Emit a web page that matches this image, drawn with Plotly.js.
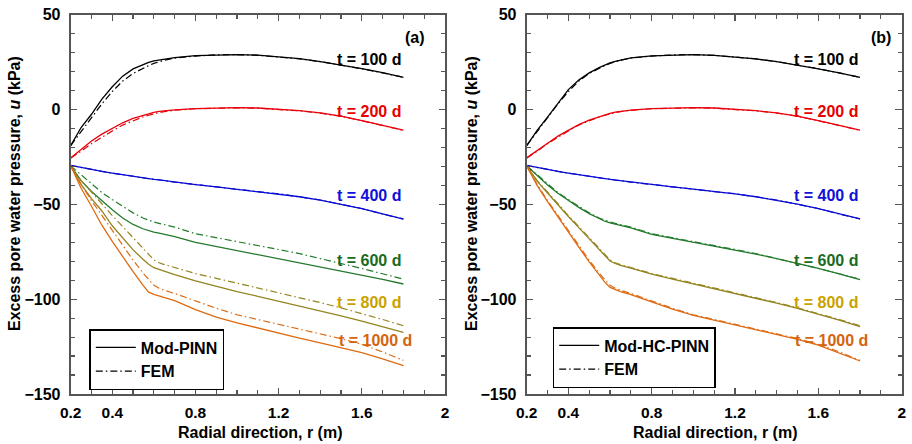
<!DOCTYPE html>
<html>
<head>
<meta charset="utf-8">
<script src="https://cdn.plot.ly/plotly-3.0.1.min.js"></script>
<style>html,body{margin:0;padding:0;background:#fff;}#chart{width:912px;height:444px;}</style>
</head>
<body>
<div id="chart"></div>
<script>
// Radial positions (m)
const r = [0.2, 0.25, 0.3, 0.35, 0.4, 0.45, 0.5, 0.55, 0.575, 0.6, 0.625, 0.65, 0.7, 0.8, 0.9, 1.0, 1.1, 1.2, 1.3, 1.4, 1.5, 1.6, 1.7, 1.8];

// Times and labels
const times = ["t = 100 d", "t = 200 d", "t = 400 d", "t = 600 d", "t = 800 d", "t = 1000 d"];

// Panel (a): Mod-PINN
const pinnA_100  = [-19, -9.5, -2.5, 5.5, 12, 17.6, 21.4, 23.9, 24.9, 25.7, 26.2, 26.6, 27.4, 28.4, 28.9, 29, 28.7, 27.9, 26.8, 25.3, 23.6, 21.6, 19.4, 17];
const pinnA_200  = [-25.5, -21, -16.6, -13, -10, -7, -4.7, -3, -2.2, -1.5, -1, -0.7, -0.2, 0.5, 0.9, 1, 0.8, 0.3, -0.6, -1.8, -3.5, -5.8, -8.3, -10.9];
const pinnA_400  = [-29.5, -30.6, -31.6, -32.6, -33.5, -34.4, -35.2, -36, -36.4, -36.8, -37.1, -37.5, -38.2, -39.6, -40.8, -42, -43.2, -44.5, -46, -47.8, -49.9, -52.3, -55, -57.8];
const pinnA_600  = [-29.7, -37.5, -43.2, -48.2, -52.8, -57.2, -60.6, -63, -63.9, -64.6, -65.2, -65.8, -67, -70, -72.2, -74.3, -76.3, -78.4, -80.6, -82.8, -85, -87.3, -89.6, -92];
const pinnA_800  = [-29.7, -39.5, -47, -53.5, -61.3, -67.8, -74, -79.2, -81.6, -83.4, -84.4, -85.3, -87, -90.3, -93.3, -96, -98.5, -101, -103.4, -106, -108.8, -111.6, -114.5, -117.5];
const pinnA_1000 = [-29.7, -41.5, -51, -61, -69.5, -77.8, -85.5, -93, -96.3, -97.5, -98.4, -99.2, -100.8, -105.5, -109.5, -112.5, -115.3, -118, -120.5, -123, -125.5, -128.2, -131.5, -135];

// FEM (same in both panels)
const fem_100  = [-19, -11.5, -4.5, 3, 9.5, 15, 19, 22, 23.2, 24.3, 25.2, 26, 27.1, 28.2, 28.8, 29, 28.6, 27.8, 26.7, 25.3, 23.5, 21.5, 19.3, 17];
const fem_200  = [-25.5, -22, -18, -14.5, -11.3, -8.2, -5.8, -3.8, -3, -2.2, -1.6, -1.1, -0.4, 0.4, 0.8, 0.9, 0.7, 0.2, -0.7, -1.9, -3.6, -5.9, -8.4, -11];
const fem_400  = [-29.5, -30.5, -31.7, -32.5, -33.6, -34.3, -35.3, -35.9, -36.5, -36.7, -37.2, -37.4, -38.3, -39.5, -40.9, -41.9, -43.3, -44.4, -46.1, -47.7, -50, -52.2, -55.1, -57.7];
const fem_600  = [-29.7, -34.5, -39.5, -43.8, -47.5, -51.2, -54.5, -57.3, -58.4, -59.3, -60, -60.6, -62, -65.5, -67.5, -69.5, -71.5, -73.8, -76, -78.5, -81, -83.8, -86.6, -89.5];
const fem_800  = [-29.7, -37.5, -43.5, -50, -55.9, -61.7, -67.5, -73.4, -76.4, -79.3, -80.8, -81.8, -83.3, -86.5, -89, -91.5, -94, -96.5, -99, -101.8, -104.6, -107.5, -110.7, -114];
const fem_1000 = [-29.7, -39.5, -48, -56, -63.8, -71.8, -79.4, -86.5, -89.9, -92.7, -94.2, -95.3, -97, -101, -104.8, -108.2, -110.7, -113.2, -115.7, -118, -120.8, -123.8, -127.8, -132.3];

// Panel (b): Mod-HC-PINN
const pinnB_100  = [-19, -11, -4, 3.5, 10.5, 15.5, 19.3, 22.2, 23.5, 24.6, 25.4, 26.1, 27.2, 28.3, 28.8, 29, 28.6, 27.8, 26.7, 25.2, 23.5, 21.4, 19.3, 16.9];
const pinnB_200  = [-25.5, -21.6, -17.6, -14, -11, -8, -5.6, -3.6, -2.8, -2, -1.4, -1, -0.3, 0.5, 0.9, 1, 0.8, 0.3, -0.6, -1.8, -3.5, -5.8, -8.3, -10.8];
const pinnB_400  = [-29.5, -30.6, -31.6, -32.6, -33.5, -34.4, -35.3, -36, -36.4, -36.8, -37.2, -37.5, -38.2, -39.6, -40.8, -42, -43.2, -44.5, -46, -47.8, -49.9, -52.2, -55, -57.6];
const pinnB_600  = [-29.7, -34.8, -39.8, -44.2, -48, -51.6, -54.9, -57.8, -58.9, -59.8, -60.4, -61, -62.4, -65.8, -67.8, -69.8, -71.8, -74, -76.2, -78.6, -81.1, -83.8, -86.6, -89.7];
const pinnB_800  = [-29.7, -37.8, -44, -50.5, -56.4, -62.3, -68.2, -74.1, -77.2, -79.9, -81.2, -82.2, -83.6, -86.8, -89.4, -91.9, -94.4, -96.9, -99.4, -102.1, -104.9, -107.8, -111, -114.5];
const pinnB_1000 = [-29.7, -40, -48.6, -56.8, -64.6, -72.6, -80.3, -87.5, -91, -93.8, -95, -96, -97.6, -101.5, -105.2, -108.5, -111, -113.5, -116, -118.4, -121.2, -124.2, -128.2, -132.6];

// Label positions (data coordinates)
const labelY = [26.6, -1.3, -45.1, -79.5, -102, -121.7];
const labelX = [1.80, 1.80, 1.80, 1.80, 1.80, 1.85];

// Tick labels
const xTicks = [0.2, 0.4, 0.8, 1.2, 1.6, 2];
const xTickText = ["0.2", "0.4", "0.8", "1.2", "1.6", "2"];
const yTicks = [-150, -100, -50, 0, 50];

const lineColors = ["#000000", "#e8000b", "#0a0ad2", "#237a2c", "#948420", "#de6a12"];
const textColors = ["#000000", "#e60000", "#1010d8", "#1a6b20", "#c9a200", "#d4640e"];

const pinnA = [pinnA_100, pinnA_200, pinnA_400, pinnA_600, pinnA_800, pinnA_1000];
const pinnB = [pinnB_100, pinnB_200, pinnB_400, pinnB_600, pinnB_800, pinnB_1000];
const fem = [fem_100, fem_200, fem_400, fem_600, fem_800, fem_1000];

const FONT = "Liberation Sans, Arial, Helvetica, sans-serif";
const FEMDASH = "7px,3px,1.5px,3px";

const traces = [];
function addPanel(pinn, pinnName, xa, ya, leg) {
  for (let i = 0; i < 6; i++) {
    traces.push({x: r, y: pinn[i], xaxis: xa, yaxis: ya, type: "scatter", mode: "lines",
      name: pinnName, legend: leg, showlegend: i === 0,
      line: {color: lineColors[i], width: 1.3}});
    traces.push({x: r, y: fem[i], xaxis: xa, yaxis: ya, type: "scatter", mode: "lines",
      name: "FEM", legend: leg, showlegend: i === 0,
      line: {color: lineColors[i], width: 1.2, dash: FEMDASH}});
  }
}
addPanel(pinnA, "Mod-PINN", "x", "y", "legend");
addPanel(pinnB, "Mod-HC-PINN", "x2", "y2", "legend2");

const W = 912, H = 444;
const yDom = [50 / H, (H - 14.7) / H];

function xAxis(dom, anchor) {
  return {
    domain: dom, anchor: anchor, range: [0.2, 2], autorange: false,
    tickmode: "array", tickvals: xTicks, ticktext: xTickText,
    ticks: "inside", ticklen: 6.5, tickwidth: 1.3, tickcolor: "#555",
    showline: true, linecolor: "#555", linewidth: 2, mirror: "ticks",
    showgrid: false, zeroline: false,
    tickfont: {family: FONT, size: 15.5, color: "#000", weight: "bold"},
    ticklabelstandoff: 3,
    minor: {tickmode: "linear", tick0: 0.2, dtick: 0.1, ticks: "inside", ticklen: 4, tickwidth: 1.2, tickcolor: "#555", showgrid: false}
  };
}
function yAxis(dom, anchor) {
  return {
    domain: dom, anchor: anchor, range: [-150, 50], autorange: false,
    tickmode: "array", tickvals: yTicks,
    ticks: "inside", ticklen: 6.5, tickwidth: 1.3, tickcolor: "#555",
    showline: true, linecolor: "#555", linewidth: 2, mirror: "ticks",
    showgrid: false, zeroline: false,
    tickfont: {family: FONT, size: 16, color: "#000", weight: "bold"},
    ticklabelstandoff: 5,
    minor: {tickmode: "linear", tick0: 0, dtick: 10, ticks: "inside", ticklen: 4, tickwidth: 1.2, tickcolor: "#555", showgrid: false}
  };
}

const annotations = [];
[["x", "y"], ["x2", "y2"]].forEach(([xa, ya]) => {
  for (let i = 0; i < 6; i++) {
    annotations.push({xref: xa, yref: ya, x: labelX[i], y: labelY[i], text: times[i],
      xanchor: "right", yanchor: "middle", showarrow: false,
      font: {family: FONT, size: 16, color: textColors[i], weight: "bold"}});
  }
});
annotations.push({xref: "x", yref: "y", x: 1.855, y: 38, text: "(a)", showarrow: false,
  xanchor: "center", yanchor: "middle", font: {family: FONT, size: 16, color: "#000", weight: "bold"}});
annotations.push({xref: "x2", yref: "y2", x: 1.9, y: 38, text: "(b)", showarrow: false,
  xanchor: "center", yanchor: "middle", font: {family: FONT, size: 16, color: "#000", weight: "bold"}});
// axis titles
const ytitle = "Excess pore water pressure, <i>u</i> (kPa)";
const xtitle = "Radial direction, r (m)";
annotations.push({xref: "paper", yref: "paper", x: 14 / W, y: 1 - 194 / H, text: ytitle, textangle: -90,
  showarrow: false, xanchor: "center", yanchor: "middle", font: {family: FONT, size: 16, color: "#000", weight: "bold"}});
annotations.push({xref: "paper", yref: "paper", x: 471 / W, y: 1 - 194 / H, text: ytitle, textangle: -90,
  showarrow: false, xanchor: "center", yanchor: "middle", font: {family: FONT, size: 16, color: "#000", weight: "bold"}});
annotations.push({xref: "paper", yref: "paper", x: 260 / W, y: 1 - 432 / H, text: xtitle,
  showarrow: false, xanchor: "center", yanchor: "middle", font: {family: FONT, size: 16, color: "#000", weight: "bold"}});
annotations.push({xref: "paper", yref: "paper", x: 715 / W, y: 1 - 432 / H, text: xtitle,
  showarrow: false, xanchor: "center", yanchor: "middle", font: {family: FONT, size: 16, color: "#000", weight: "bold"}});

const legendBase = {
  bgcolor: "#fff", bordercolor: "#000", borderwidth: 1.5,
  font: {family: FONT, size: 16, color: "#000", weight: "bold"},
  xanchor: "left", yanchor: "top", tracegroupgap: 0, itemwidth: 40
};

const layout = {
  width: W, height: H,
  margin: {l: 0, r: 0, t: 0, b: 0},
  paper_bgcolor: "#fff", plot_bgcolor: "#fff",
  showlegend: true,
  xaxis: xAxis([70.7 / W, 445 / W], "y"),
  yaxis: yAxis(yDom, "x"),
  xaxis2: xAxis([526.7 / W, 901.7 / W], "y2"),
  yaxis2: yAxis(yDom, "x2"),
  legend: Object.assign({}, legendBase, {x: 89.3 / W, y: 1 - 329 / H}),
  legend2: Object.assign({}, legendBase, {x: 552.7 / W, y: 1 - 327 / H}),
  annotations: annotations
};

Plotly.newPlot("chart", traces, layout, {staticPlot: true, displayModeBar: false});
</script>
</body>
</html>
